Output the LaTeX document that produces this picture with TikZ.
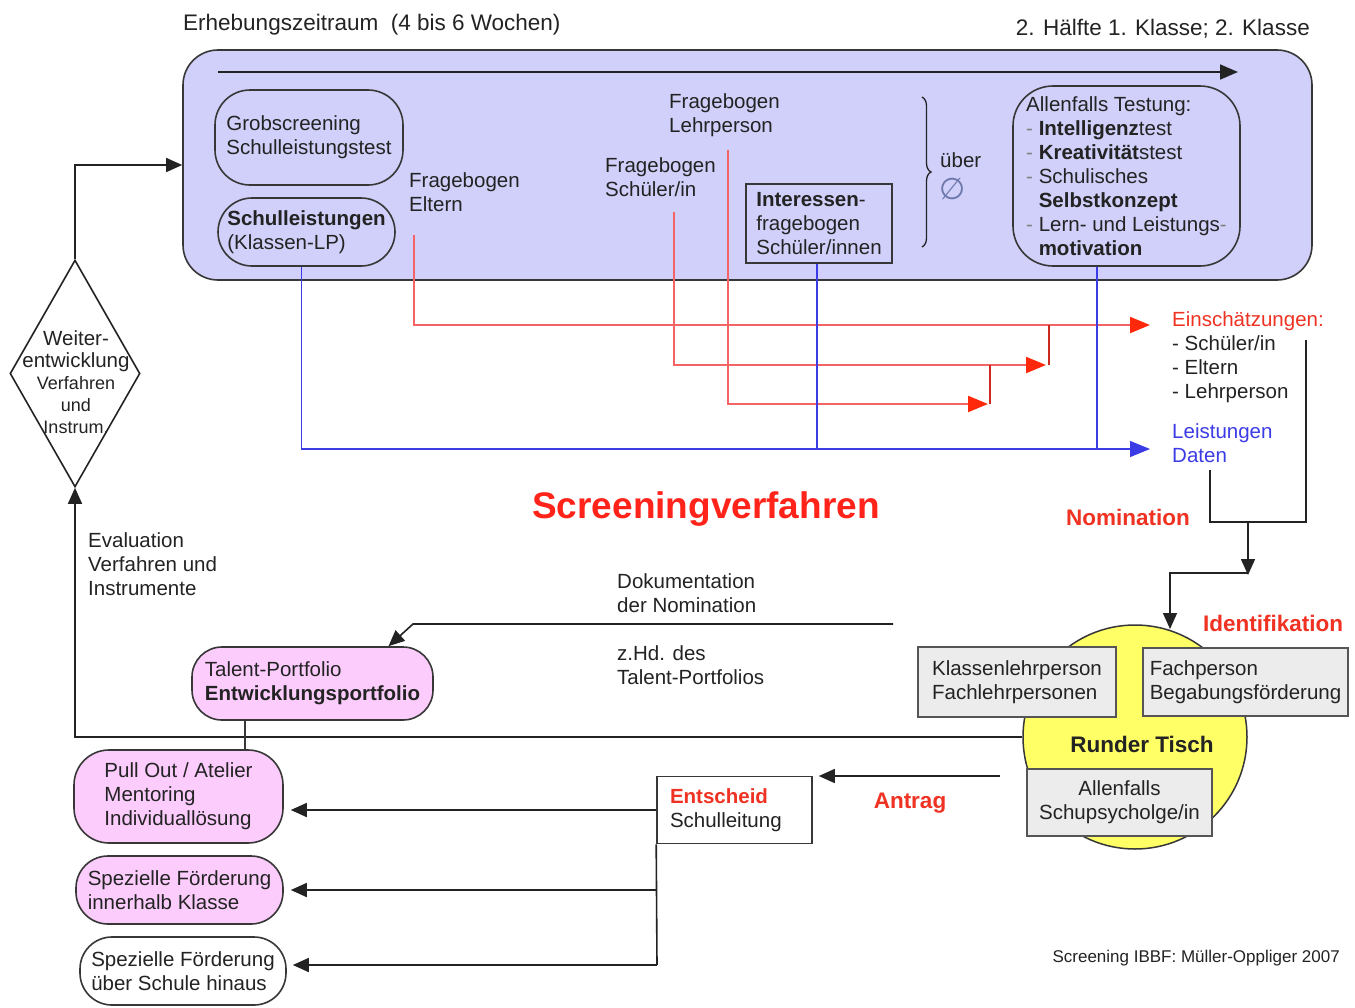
\documentclass[tikz,border=0pt]{standalone}
\usepackage{fontspec}
\setmainfont{Liberation Sans}
\newfontfamily\symfont{DejaVu Sans}
\usetikzlibrary{arrows.meta,shapes.geometric,decorations.pathreplacing}

\definecolor{lav}{RGB}{208,208,250}
\definecolor{pinkfill}{RGB}{252,204,252}
\definecolor{greyfill}{RGB}{236,236,236}
\definecolor{rtyellow}{RGB}{255,255,102}
\definecolor{lblred}{RGB}{240,50,35}
\definecolor{titlered}{RGB}{255,35,25}
\definecolor{redln}{RGB}{245,100,100}
\definecolor{redtip}{RGB}{255,40,10}
\definecolor{blueln}{RGB}{60,60,230}
\definecolor{greyblue}{RGB}{110,120,170}
\definecolor{ink}{RGB}{35,35,35}
\definecolor{edge}{RGB}{55,55,55}

\newcommand\mainsz{\fontsize{20.5}{24}\selectfont}
\newcommand\headsz{\fontsize{22.5}{26}\selectfont}
\newcommand\labsz{\fontsize{22.5}{26}\selectfont\bfseries}
\newcommand\dsh{\textcolor{gray}{-}}

\begin{document}
\begin{tikzpicture}[x=1pt,y=-1pt,
  txt/.style={font=\mainsz, text=ink, align=left, inner sep=0pt},
  rbox/.style={draw=edge, line width=1.6pt, inner sep=0pt, font=\mainsz, text=ink, align=left},
  gbox/.style={draw=edge!85, fill=greyfill, line width=1.6pt, inner sep=0pt, font=\mainsz, text=ink, align=left},
  blk/.style={draw=ink, line width=1.6pt},
  arr/.style={blk, -{Triangle[length=16pt,width=14pt]}},
  redl/.style={draw=redln, line width=2.2pt, -{Triangle[length=20pt,width=16pt,color=redtip]}},
  redv/.style={draw=lblred!85!black, line width=1.3pt},
  bluel/.style={draw=blueln, line width=1.3pt},
  bluea/.style={bluel, -{Triangle[length=20pt,width=16pt]}},
  redlab/.style={font=\labsz, text=lblred, inner sep=0pt},
]
\useasboundingbox (0,0) rectangle (1355,1007);
\fill[white] (0,0) rectangle (1355,1007);

% ---------- screening period ----------
\node[rbox, fill=lav, rounded corners=35pt, minimum width=1129pt, minimum height=230pt] (frame) at (747.5,165) {};
\node[txt, font=\headsz, anchor=west] (period) at (183,25) {Erhebungszeitraum\ \ (4 bis 6 Wochen)};
\node[txt, font=\headsz, anchor=east] (grade) at (1310,29) {2. Hälfte 1. Klasse; 2. Klasse};
\coordinate (t0) at (218,72);
\coordinate (t1) at (1238,72);
\draw[blk, -{Triangle[length=18pt,width=15pt]}] (t0) -- (t1);

\node[rbox, rounded corners=35pt, minimum width=188pt, minimum height=95pt] (grob) at (309,137.5) {Grobscreening\\Schulleistungstest};
\node[rbox, rounded corners=34pt, minimum width=177pt, minimum height=68pt] (sl) at (306.5,232) {\textbf{Schulleistungen}\\(Klassen-LP)};

\node[txt, anchor=west] (felt) at (409,192) {Fragebogen\\Eltern};
\node[txt, anchor=west] (fleh) at (669,115) {Fragebogen\\Lehrperson};
\node[txt, anchor=west] (fsch) at (605,177) {Fragebogen\\Schüler/in};
\node[rbox, minimum width=146pt, minimum height=79pt] (intr) at (819,223.5) {\textbf{Interessen}-\\fragebogen\\Schüler/innen};

\coordinate (br0) at (922,97);
\coordinate (br1) at (922,247);
\draw[ink, line width=1.3pt, decorate, decoration={brace, amplitude=9pt}] (br0) -- (br1);
\node[txt, anchor=west] (ueber) at (940,160) {über};
\node[inner sep=0pt, anchor=west, text=greyblue, font=\symfont\fontsize{30}{30}\selectfont] (avg) at (939,189) {∅};

\node[rbox, rounded corners=40pt, minimum width=227pt, minimum height=180pt] (test) at (1126.5,176)
  {Allenfalls Testung:\\
   \dsh\ \textbf{Intelligenz}test\\
   \dsh\ \textbf{Kreativität}stest\\
   \dsh\ Schulisches\\
   \phantom{-\ }\textbf{Selbstkonzept}\\
   \dsh\ Lern- und Leistungs\dsh\\
   \phantom{-\ }\textbf{motivation}};

% ---------- results ----------
\node[txt, anchor=west] (einsch) at (1172,357) {\textcolor{lblred}{Einschätzungen:}\\- Schüler/in\\- Eltern\\- Lehrperson};
\node[txt, anchor=west, text=blueln] (leist) at (1172,443) {Leistungen\\Daten};

\coordinate (e0) at (414,235);
\coordinate (s0) at (674,212);
\coordinate (l0) at (728,150);
\coordinate (rin) at (1150,325);
\coordinate (m1) at (1046,365);
\coordinate (m2) at (988,404);
\coordinate (j1) at (1049,365);
\coordinate (j2) at (990,404);

\draw[redl] (e0) |- (rin);
\draw[redl] (s0) |- (m1);
\draw[redl] (l0) |- (m2);
\draw[redv] (j1) -- (j1 |- rin);
\draw[redv] (j2) -- (j2 |- m1);

\coordinate (bin) at (1150,449);
\draw[bluea] ([xshift=-5pt]sl.south) |- (bin);
\draw[bluel] ([xshift=-2pt]intr.south) -- ([xshift=-2pt]intr.south |- bin);
\draw[bluel] ([xshift=-29.5pt]test.south) -- ([xshift=-29.5pt]test.south |- bin);

% ---------- nomination ----------
\node[font=\fontsize{37}{40}\selectfont\bfseries, text=titlered, inner sep=0pt] (title) at (706,509) {Screeningverfahren};
\node[redlab] (nom) at (1128,517) {Nomination};

\coordinate (b1) at (1306,340);
\coordinate (b2) at (1210,470);
\coordinate (nj) at (1248,522);
\coordinate (ntip) at (1248,575);
\coordinate (ij) at (1248,573);
\coordinate (itip) at (1170,629);
\draw[blk] (b1) -- (b1 |- nj) -- (b2 |- nj) -- (b2);
\draw[arr] (nj) -- (ntip);
\draw[arr] (ij) -| (itip);

% ---------- round table ----------
\node[redlab] (ident) at (1273,623) {Identifikation};
\node[circle, draw=edge, fill=rtyellow, line width=1.5pt, minimum size=224pt, inner sep=0pt] (rt) at (1135,737) {};
\node[gbox, minimum width=198pt, minimum height=70pt] (klp) at (1017,682) {Klassenlehrperson\\Fachlehrpersonen};
\node[gbox, minimum width=205pt, minimum height=68pt] (fbf) at (1245.5,682) {Fachperson\\Begabungsförderung};
\node[gbox, align=center, minimum width=185pt, minimum height=67pt] (psy) at (1119.5,802.5) {Allenfalls\\Schupsycholge/in};
\node[font=\labsz, text=ink, inner sep=0pt] (rtl) at (1142,744) {Runder Tisch};

% ---------- evaluation loop ----------
\node[diamond, draw=ink, fill=white, line width=1.6pt, minimum width=130pt, minimum height=227pt, inner sep=0pt] (dia) at (75,373.5) {};
\node[align=center, inner sep=0pt, text=ink, font=\fontsize{18}{22}\selectfont] (diat) at (76,382)
  {{\fontsize{20.5}{22}\selectfont Weiter-}\\{\fontsize{20.5}{22}\selectfont entwicklung}\\Verfahren\\und\\Instrum.};
\draw[arr] (rt.west) -| (dia.south);
\draw[arr] (dia.north) |- (frame.west);
\node[txt, anchor=west] (eval) at (88,564) {Evaluation\\Verfahren und\\Instrumente};

% ---------- documentation ----------
\node[txt, anchor=west] (doku) at (617,593) {Dokumentation\\der Nomination};
\node[txt, anchor=west] (zhd) at (617,665) {z.Hd. des\\Talent-Portfolios};
\node[rbox, fill=pinkfill, rounded corners=30pt, minimum width=241pt, minimum height=73pt] (talent) at (312.5,683.5) {Talent-Portfolio\\\textbf{Entwicklungsportfolio}};
\coordinate (d0) at (893,624);
\coordinate (d1) at (413,624);
\draw[arr] (d0) -- (d1) -- ([xshift=76pt]talent.north);

% ---------- measures ----------
\node[rbox, fill=pinkfill, rounded corners=35pt, minimum width=209pt, minimum height=93pt] (pull) at (178.5,796.5) {Pull Out / Atelier\\Mentoring\\Individuallösung};
\node[rbox, fill=pinkfill, rounded corners=32pt, minimum width=207pt, minimum height=68pt] (spz2) at (179.5,890) {Spezielle Förderung\\innerhalb Klasse};
\node[rbox, fill=white, rounded corners=32pt, minimum width=206pt, minimum height=68pt] (spz3) at (183,971) {Spezielle Förderung\\über Schule hinaus};
\coordinate (tp) at (245,0);
\draw[draw=edge, line width=1.3pt] (talent.south -| tp) -- (pull.north -| tp);

\node[rbox, draw=edge, inner xsep=13pt, text width=129pt, minimum height=67pt] (ent) at (734.5,810) {\textcolor{lblred}{\textbf{Entscheid}}\\Schulleitung};
\node[redlab] (antrag) at (910,803) {Antrag};
\coordinate (a0) at (1000,776);
\draw[arr, shorten >=6pt] (a0) -- (a0 -| ent.east);

\coordinate (trunk) at (657,965);
\draw[arr, shorten >=7pt] (ent.west) -- (ent.west -| pull.east);
\draw[blk] (ent.south west) -- (trunk);
\draw[arr, shorten >=7pt] (ent.south west |- spz2.east) -- (spz2.east);
\draw[arr, shorten >=6pt] (trunk) -- (trunk -| spz3.east);

\node[font=\fontsize{17}{20}\selectfont, text=ink, anchor=east, inner sep=0pt] (credit) at (1340,958) {Screening IBBF: Müller-Oppliger 2007};
\end{tikzpicture}
\end{document}
